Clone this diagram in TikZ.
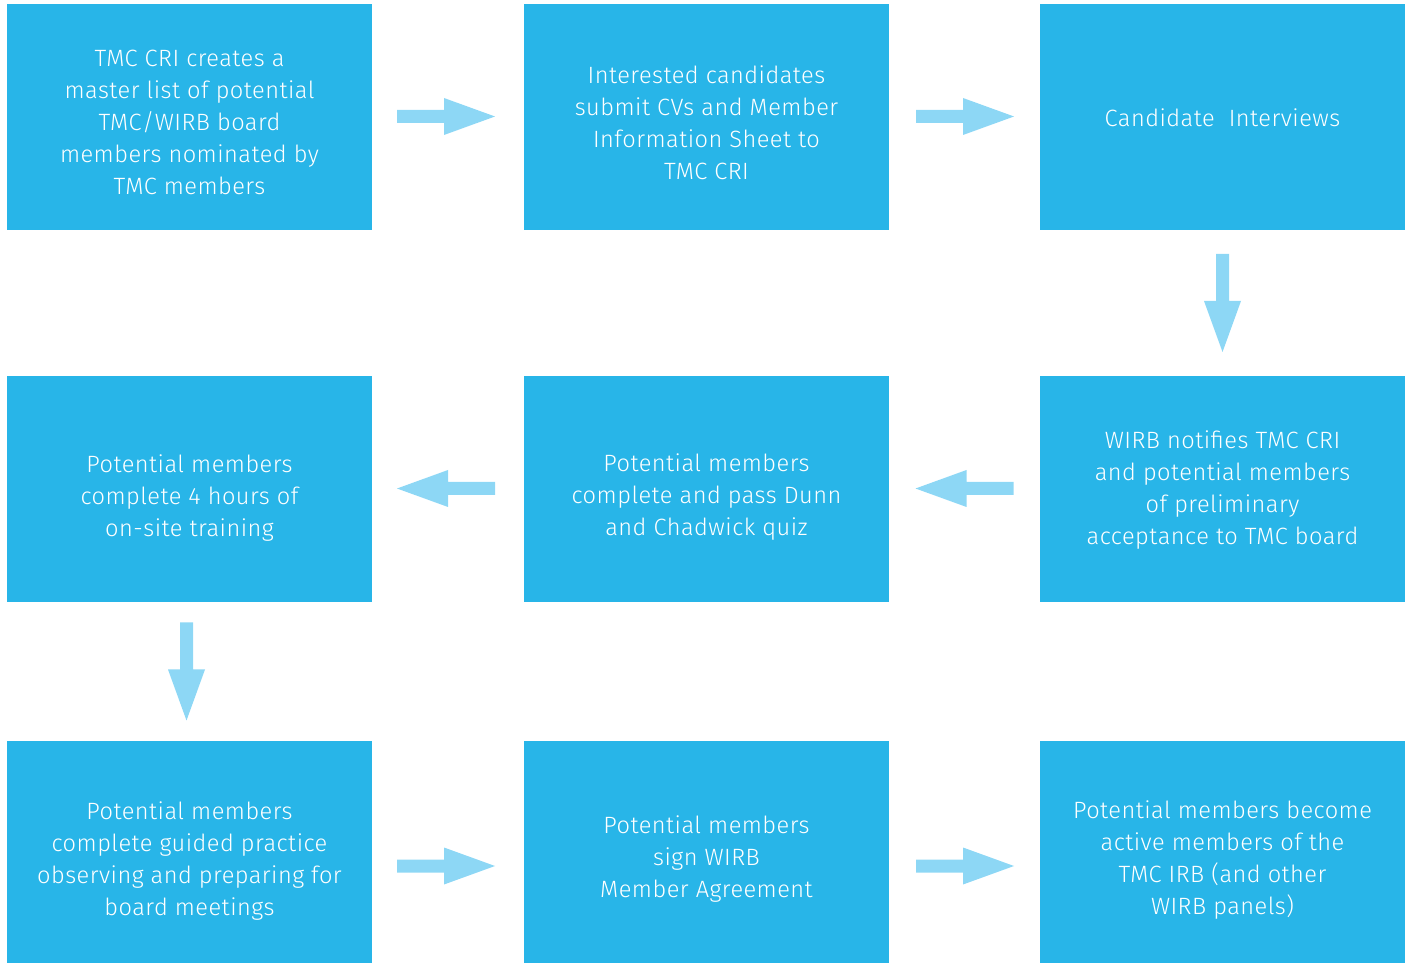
\documentclass[tikz,border=0pt]{standalone}
\usepackage{fontspec}
\setmainfont{Fira Sans Light}[LetterSpace=2]
\usetikzlibrary{calc}
\definecolor{boxblue}{HTML}{28B5E8}
\definecolor{arrowblue}{HTML}{8DD7F5}
\tikzset{
  x=1bp, y=1bp,
  box/.style={fill=boxblue, draw=none, minimum width=365bp, minimum height=226bp, inner sep=0pt},
  lastrow/.style={minimum height=222bp},
  boxtext/.style={text=white, inner sep=0pt, align=center, font=\fontsize{23.6bp}{32bp}\selectfont},
  flowarrow/.pic={\fill[arrowblue] (-49,-6.5) -- (-2,-6.5) -- (-2,-18.5) -- (49,0) -- (-2,18.5) -- (-2,6.5) -- (-49,6.5) -- cycle;}
}
\begin{document}
\begin{tikzpicture}
\useasboundingbox (0,0) rectangle (1411,963);
\node[box] (b1) at (189.5,846) {};
\node[box] (b2) at (706.5,846) {};
\node[box] (b3) at (1222.5,846) {};
\node[box] (b4) at (1222.5,474) {};
\node[box] (b5) at (706.5,474) {};
\node[box] (b6) at (189.5,474) {};
\node[box,lastrow] (b7) at (189.5,111) {};
\node[box,lastrow] (b8) at (706.5,111) {};
\node[box,lastrow] (b9) at (1222.5,111) {};
\node[boxtext] (t1) at ($(b1.center)+(0,-5)$) {TMC CRI creates a\\master list of potential\\TMC/WIRB board\\members nominated by\\TMC members};
\node[boxtext] (t2) at ($(b2.center)+(0,-6)$) {Interested candidates\\submit CVs and Member\\Information Sheet to\\TMC CRI};
\node[boxtext] (t3) at ($(b3.center)+(0,-1)$) {Candidate~~Interviews};
\node[boxtext] (t4) at ($(b4.center)+(0,-1)$) {WIRB notifies TMC CRI\\and potential members\\of preliminary\\acceptance to TMC board};
\node[boxtext] (t5) at ($(b5.center)+(0,-8)$) {Potential members\\complete and pass Dunn\\and Chadwick quiz};
\node[boxtext] (t6) at ($(b6.center)+(0,-9)$) {Potential members\\complete 4 hours of\\on-site training};
\node[boxtext] (t7) at ($(b7.center)+(0,-9)$) {Potential members\\complete guided practice\\observing and preparing for\\board meetings};
\node[boxtext] (t8) at ($(b8.center)+(0,-7)$) {Potential members\\sign WIRB\\Member Agreement};
\node[boxtext] (t9) at ($(b9.center)+(0,-8)$) {Potential members become\\active members of the\\TMC IRB (and other\\WIRB panels)};
\pic at ($($(b1.east)!0.5!(b2.west)$)+(-2,0.5)$) {flowarrow};
\pic at ($($(b2.east)!0.5!(b3.west)$)+(0.5,0.5)$) {flowarrow};
\pic[rotate=-90] at ($(b3.south)!0.5!(b4.north)$) {flowarrow};
\pic[rotate=180] at ($($(b4.west)!0.5!(b5.east)$)+(0,0.5)$) {flowarrow};
\pic[rotate=180] at ($($(b5.west)!0.5!(b6.east)$)+(-2,0.5)$) {flowarrow};
\pic[rotate=-90] at ($($(b6.south)!0.5!(b7.north)$)+(-3,0)$) {flowarrow};
\pic at ($($(b7.east)!0.5!(b8.west)$)+(-2,-14)$) {flowarrow};
\pic at ($($(b8.east)!0.5!(b9.west)$)+(0.5,-14)$) {flowarrow};
\end{tikzpicture}
\end{document}
